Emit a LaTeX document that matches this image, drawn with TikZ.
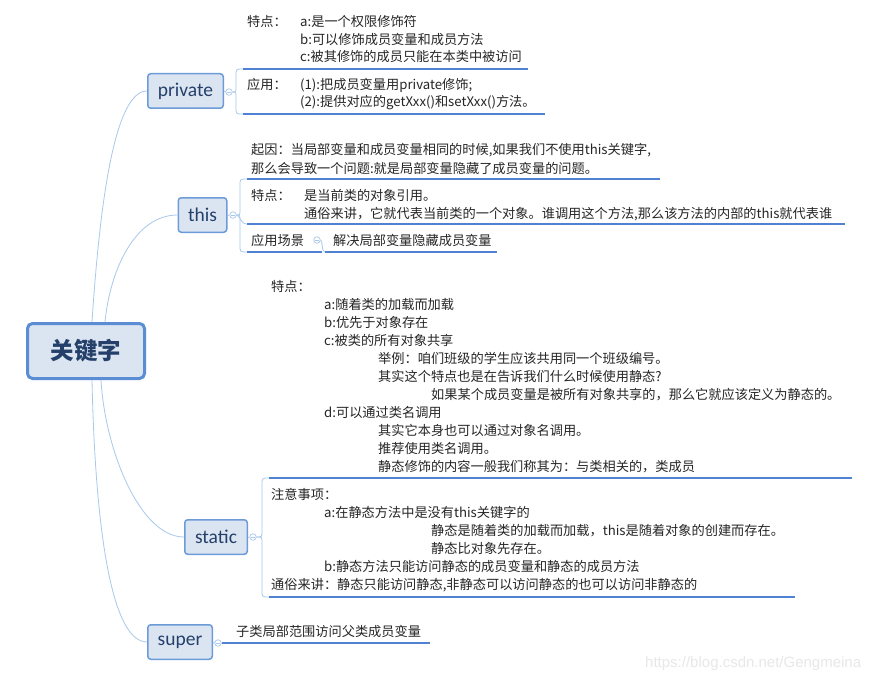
\documentclass[tikz,border=0pt]{standalone}
\usepackage{fontspec}
\setmainfont{Noto Sans CJK SC}
\newfontfamily\boxfont{Carlito}
\newfontfamily\markfont{Liberation Sans}
\definecolor{boxfill}{HTML}{DBE5F1}
\definecolor{boxline}{HTML}{6C9BD8}
\definecolor{rootline}{HTML}{5A8DD3}
\definecolor{ulblue}{HTML}{4F82D2}
\definecolor{twigblue}{HTML}{A9C8EC}
\definecolor{ink}{HTML}{262626}
\definecolor{boxink}{HTML}{24406A}

\tikzset{
  topic/.style={draw=boxline, line width=1.5pt, fill=boxfill, rounded corners=3pt,
    minimum height=34.5pt, inner sep=0pt, text=boxink,
    font=\boxfont\fontsize{19.5}{20}\selectfont},
  rootbox/.style={draw=rootline, line width=3pt, fill=boxfill, rounded corners=5pt,
    minimum width=117pt, minimum height=55pt, inner sep=0pt, text=boxink,
    font=\bfseries\fontsize{23.5}{24}\selectfont},
  txt/.style={anchor=base west, inner sep=0pt, text=ink, font=\fontsize{13.2}{16}\selectfont},
  uline/.style={draw=ulblue, line width=2pt},
  branch/.style={draw=twigblue, line width=0.8pt},
  brace/.style={draw=twigblue, line width=0.8pt},
  toggle/.style={circle, draw=twigblue, fill=white, line width=0.7pt, minimum size=6.5pt,
    inner sep=0pt, path picture={\draw[twigblue, line width=0.6pt]
      ([xshift=-1.8pt]path picture bounding box.center) -- ([xshift=1.8pt]path picture bounding box.center);}},
}

\begin{document}
\begin{tikzpicture}[x=1pt,y=-1pt]
  \fill[white] (0,0) rectangle (882,679);
  \useasboundingbox (0,0) rectangle (882,679);

  % root and first level
  \node[rootbox] (kw) at (86,351) {关键字};
  \node[topic, minimum width=75.5pt] (pv) at (185.5,91) {private};
  \node[topic, minimum width=48.5pt] (th) at (202.5,215) {this};
  \node[topic, minimum width=62.5pt] (st) at (216,537) {static};
  \node[topic, minimum width=64.5pt] (sp) at (180,642) {super};

  \coordinate (kwa) at ([xshift=6pt]kw.north);
  \coordinate (kwb) at ([xshift=19pt]kw.north);
  \coordinate (kwc) at ([xshift=15pt]kw.south);
  \coordinate (kwd) at ([xshift=6pt]kw.south);
  \draw[branch] (kwa) .. controls (100,200) and (115,91) .. (pv.west);
  \draw[branch] (kwb) .. controls (110,270) and (135,215) .. (th.west);
  \draw[branch] (kwc) .. controls (105,450) and (140,537) .. (st.west);
  \draw[branch] (kwd) .. controls (95,520) and (110,642) .. (sp.west);

  \node[toggle] (pvt) at (229,92) {};
  \node[toggle] (tht) at (233,215) {};
  \node[toggle] (stt) at (253,537) {};
  \node[toggle] (spt) at (218,643) {};
  \node[toggle] (yct) at (317,240) {};
  \draw[brace] (pv.east) -- (pvt.west);
  \draw[brace] (th.east) -- (tht.west);
  \draw[brace] (st.east) -- (stt.west);
  \draw[brace] (sp.east) -- (spt.west);

  % private
  \coordinate (pva) at (243,69);
  \coordinate (pvb) at (243,114);
  \draw[brace] (pvt.east) .. controls (236,92) and (236,92) .. (236,86) -- (236,76) .. controls (236,69) and (236,69) .. (pva);
  \draw[brace] (pvt.east) .. controls (236,92) and (236,92) .. (236,98) -- (236,107) .. controls (236,114) and (236,114) .. (pvb);
  \draw[uline] (pva) -- (528,69);
  \draw[uline] (pvb) -- (545,114);
  \node[txt] (pvk) at (247,27) {特点：};
  \node[txt] (pv1) at (300,27) {a:是一个权限修饰符};
  \node[txt] (pv2) at (300,44.5) {b:可以修饰成员变量和成员方法};
  \node[txt] (pv3) at (300,62) {c:被其修饰的成员只能在本类中被访问};
  \node[txt] (pvy) at (247,90) {应用：};
  \node[txt] (pv4) at (300,90) {(1):把成员变量用private修饰;};
  \node[txt] (pv5) at (300,107) {(2):提供对应的getXxx()和setXxx()方法。};

  % this
  \coordinate (tha) at (247,179);
  \coordinate (thb) at (247,224);
  \coordinate (thc) at (247,252);
  \coordinate (thd) at (325,252);
  \draw[brace] (tht.east) .. controls (240,215) and (240,215) .. (240,209) -- (240,186) .. controls (240,179) and (240,179) .. (tha);
  \draw[brace] (tht.east) .. controls (240,215) and (240,224) .. (thb);
  \draw[brace] (tht.east) .. controls (240,215) and (240,215) .. (240,221) -- (240,245) .. controls (240,252) and (240,252) .. (thc);
  \draw[brace] (yct.east) .. controls (323,240) and (321,252) .. (thd);
  \draw[uline] (tha) -- (660,179);
  \draw[uline] (thb) -- (845,224);
  \draw[uline] (thc) -- (322,252);
  \draw[uline] (thd) -- (497,252);
  \node[txt] (th1) at (251,155) {起因：当局部变量和成员变量相同的时候,如果我们不使用this关键字,};
  \node[txt] (th2) at (251,173) {那么会导致一个问题:就是局部变量隐藏了成员变量的问题。};
  \node[txt] (thk) at (251,200) {特点：};
  \node[txt] (th3) at (304,200) {是当前类的对象引用。};
  \node[txt] (th4) at (304,218) {通俗来讲，它就代表当前类的一个对象。谁调用这个方法,那么该方法的内部的this就代表谁};
  \node[txt] (thy) at (251,245) {应用场景};
  \node[txt] (th5) at (333,245) {解决局部变量隐藏成员变量};

  % static
  \coordinate (sta) at (269,478);
  \coordinate (stb) at (269,597);
  \draw[brace] (stt.east) .. controls (262,537) and (262,537) .. (262,531) -- (262,485) .. controls (262,478) and (262,478) .. (sta);
  \draw[brace] (stt.east) .. controls (262,537) and (262,537) .. (262,543) -- (262,590) .. controls (262,597) and (262,597) .. (stb);
  \draw[uline] (sta) -- (852,478);
  \draw[uline] (stb) -- (795,597);
  \node[txt] (stk) at (271,291) {特点：};
  \node[txt] (st1) at (324,309) {a:随着类的加载而加载};
  \node[txt] (st2) at (324,327) {b:优先于对象存在};
  \node[txt] (st3) at (324,345) {c:被类的所有对象共享};
  \node[txt] (st4) at (378,363) {举例：咱们班级的学生应该共用同一个班级编号。};
  \node[txt] (st5) at (378,381) {其实这个特点也是在告诉我们什么时候使用静态?};
  \node[txt] (st6) at (431,399) {如果某个成员变量是被所有对象共享的，那么它就应该定义为静态的。};
  \node[txt] (st7) at (324,417) {d:可以通过类名调用};
  \node[txt] (st8) at (378,435) {其实它本身也可以通过对象名调用。};
  \node[txt] (st9) at (378,453) {推荐使用类名调用。};
  \node[txt] (st10) at (378,471) {静态修饰的内容一般我们称其为：与类相关的，类成员};
  \node[txt] (stz) at (271,499) {注意事项：};
  \node[txt] (st11) at (324,517) {a:在静态方法中是没有this关键字的};
  \node[txt] (st12) at (431,535) {静态是随着类的加载而加载，this是随着对象的创建而存在。};
  \node[txt] (st13) at (431,553) {静态比对象先存在。};
  \node[txt] (st14) at (324,571) {b:静态方法只能访问静态的成员变量和静态的成员方法};
  \node[txt] (st15) at (271,589) {通俗来讲：静态只能访问静态,非静态可以访问静态的也可以访问非静态的};

  % super
  \draw[uline] (spt.east) -- (430,643);
  \node[txt] (sp1) at (236,636) {子类局部范围访问父类成员变量};

  \node[anchor=base west, inner sep=0pt, text=black!9, font=\markfont\fontsize{15}{15}\selectfont] (wm) at (645,667) {https://blog.csdn.net/Gengmeina};
\end{tikzpicture}
\end{document}
